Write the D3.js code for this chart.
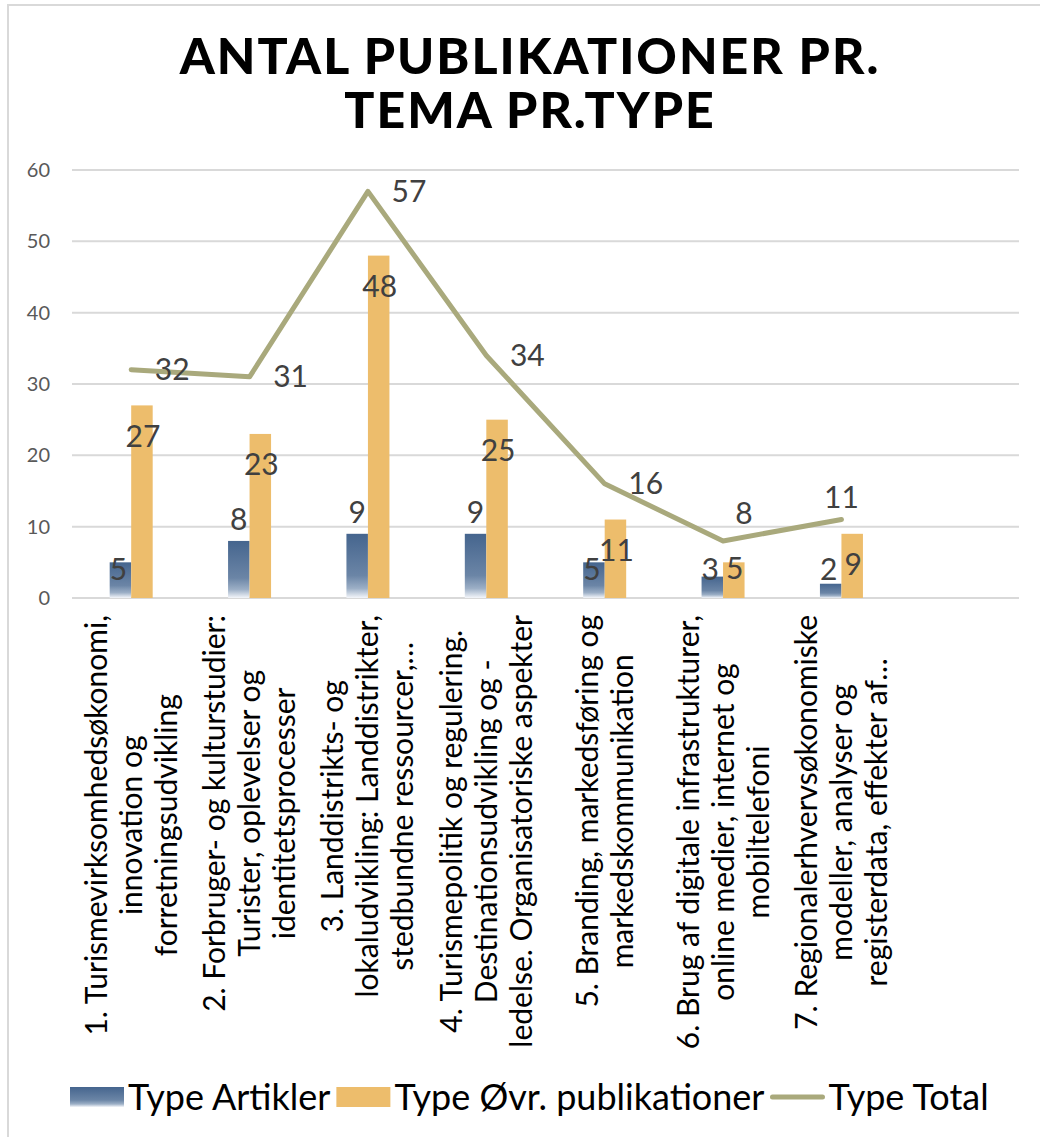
<!DOCTYPE html>
<html>
<head>
<meta charset="utf-8">
<script src="https://cdn.jsdelivr.net/npm/d3@7"></script>
<style>
  body { margin: 0; background: #fff; }
  text { font-family: Lato, "Open Sans", sans-serif; }
</style>
</head>
<body>
<svg id="chart"></svg>
<script>
// Chart data
var categories = ["c1", "c2", "c3", "c4", "c5", "c6", "c7", "c8"];
var categoryLines = [
  ["1. Turismevirksomhedsøkonomi,", "innovation og", "forretningsudvikling"],
  ["2. Forbruger- og kulturstudier:", "Turister, oplevelser og", "identitetsprocesser"],
  ["3. Landdistrikts- og", "lokaludvikling: Landdistrikter,", "stedbundne ressourcer,…"],
  ["4. Turismepolitik og regulering.", "Destinationsudvikling og -", "ledelse. Organisatoriske aspekter"],
  ["5. Branding, markedsføring og", "markedskommunikation"],
  ["6. Brug af digitale infrastrukturer,", "online medier, internet og", "mobiltelefoni"],
  ["7. Regionalerhvervsøkonomiske", "modeller, analyser og", "registerdata, effekter af…"],
  []
];
var artikler = [5, 8, 9, 9, 5, 3, 2];
var oevrige = [27, 23, 48, 25, 11, 5, 9];
var total = [32, 31, 57, 34, 16, 8, 11];
var yTicks = [0, 10, 20, 30, 40, 50, 60];
var seriesNames = ["Type Artikler", "Type Øvr. publikationer", "Type Total"];
var titleLines = ["ANTAL PUBLIKATIONER PR.", "TEMA PR.TYPE"];

var W = 1040, H = 1137;
var plot = {left: 72, right: 1019, top: 170, bottom: 598};

var svg = d3.select("#chart").attr("width", W).attr("height", H);

// chart border
svg.append("rect")
  .attr("x", 8).attr("y", 5)
  .attr("width", W + 10).attr("height", H + 10)
  .attr("fill", "none").attr("stroke", "#d9d9d9").attr("stroke-width", 2);

// gradient for blue bars
var defs = svg.append("defs");
var grad = defs.append("linearGradient").attr("id", "blueGrad")
  .attr("x1", 0).attr("y1", 0).attr("x2", 0).attr("y2", 1);
grad.append("stop").attr("offset", "0%").attr("stop-color", "#45658e");
grad.append("stop").attr("offset", "65%").attr("stop-color", "#6b85a6");
grad.append("stop").attr("offset", "85%").attr("stop-color", "#9cafc6");
grad.append("stop").attr("offset", "100%").attr("stop-color", "#f4f6fa");

// title
svg.append("g").selectAll("text")
  .data(titleLines).enter()
  .append("text")
  .attr("x", 530)
  .attr("y", function(d, i) { return 74 + i * 54; })
  .attr("text-anchor", "middle")
  .attr("font-size", 50).attr("font-weight", 900)
  .attr("letter-spacing", 2)
  .attr("fill", "#000")
  .text(function(d) { return d; });

// scales
var x = d3.scaleBand().domain(categories).range([plot.left, plot.right]);
var y = d3.scaleLinear().domain([0, 60]).range([plot.bottom, plot.top]);
var barW = 21.5;

// gridlines
svg.append("g").selectAll("line")
  .data(yTicks).enter()
  .append("line")
  .attr("x1", plot.left).attr("x2", plot.right)
  .attr("y1", function(d) { return y(d); })
  .attr("y2", function(d) { return y(d); })
  .attr("stroke", "#d9d9d9").attr("stroke-width", 2);

// y axis labels
var yaxis = d3.axisLeft(y).tickValues(yTicks).tickSize(0).tickPadding(0);
var yg = svg.append("g")
  .attr("transform", "translate(50,0)")
  .call(yaxis);
yg.select(".domain").remove();
yg.selectAll("text")
  .attr("font-family", "Lato, sans-serif")
  .attr("font-size", 20).attr("fill", "#595959");

function cx(i) { return x(categories[i]) + x.bandwidth() / 2; }

// bars
svg.append("g").selectAll("rect")
  .data(artikler).enter()
  .append("rect")
  .attr("x", function(d, i) { return cx(i) - barW; })
  .attr("y", function(d) { return y(d); })
  .attr("width", barW)
  .attr("height", function(d) { return y(0) - y(d); })
  .attr("fill", "url(#blueGrad)");

svg.append("g").selectAll("rect")
  .data(oevrige).enter()
  .append("rect")
  .attr("x", function(d, i) { return cx(i); })
  .attr("y", function(d) { return y(d); })
  .attr("width", barW)
  .attr("height", function(d) { return y(0) - y(d); })
  .attr("fill", "#edbd6c");

// total line
var line = d3.line()
  .x(function(d, i) { return cx(i); })
  .y(function(d) { return y(d); });
svg.append("path")
  .datum(total)
  .attr("d", line)
  .attr("fill", "none")
  .attr("stroke", "#a9a97c").attr("stroke-width", 5)
  .attr("stroke-linejoin", "round").attr("stroke-linecap", "round");

// data labels
var labelColor = "#404040";
var lblSize = 30;
svg.append("g").selectAll("text")
  .data(artikler).enter()
  .append("text")
  .attr("x", function(d, i) { return cx(i) - barW / 2 - (d < 8 ? 2 : 0); })
  .attr("y", function(d) { return d >= 8 ? y(d) - 21 : y(0) - 29; })
  .attr("dy", "0.35em")
  .attr("text-anchor", "middle")
  .attr("font-size", lblSize).attr("fill", labelColor)
  .text(function(d) { return d; });

svg.append("g").selectAll("text")
  .data(oevrige).enter()
  .append("text")
  .attr("x", function(d, i) { return cx(i) + barW / 2 + 1; })
  .attr("y", function(d) { return Math.min(y(d) + 31, y(0) - 30); })
  .attr("dy", "0.35em")
  .attr("text-anchor", "middle")
  .attr("font-size", lblSize).attr("fill", labelColor)
  .text(function(d) { return d; });

svg.append("g").selectAll("text")
  .data(total).enter()
  .append("text")
  .attr("x", function(d, i) {
    if (i === total.length - 1) return cx(i);
    if (i === total.length - 2) return cx(i) + 21;
    return cx(i) + 41;
  })
  .attr("y", function(d, i) {
    if (i === total.length - 1) return y(d) - 22;
    if (i === total.length - 2) return y(d) - 27;
    return y(d);
  })
  .attr("dy", "0.35em")
  .attr("text-anchor", "middle")
  .attr("font-size", lblSize).attr("fill", labelColor)
  .text(function(d) { return d; });

// category labels (rotated)
var catSize = 30, lineH = 35;
var catG = svg.append("g").selectAll("g")
  .data(categoryLines).enter()
  .append("g")
  .attr("transform", function(d, i) { return "translate(" + cx(i) + ",615) rotate(-90)"; });

catG.each(function(lines) {
  var g = d3.select(this);
  var n = lines.length;
  var texts = g.selectAll("text").data(lines).enter()
    .append("text")
    .attr("y", function(d, j) { return (j - (n - 1) / 2) * lineH; })
    .attr("dy", "0.35em")
    .attr("text-anchor", "middle")
    .attr("font-size", catSize).attr("fill", "#000")
    .text(function(d) { return d; });
  var maxW = 0;
  texts.each(function() { maxW = Math.max(maxW, this.getComputedTextLength()); });
  texts.attr("x", -maxW / 2);
});

// legend
var legend = svg.append("g").attr("transform", "translate(0,1097)");
var legFont = 36;
var lx = 70;
seriesNames.forEach(function(name, i) {
  if (i === 0) {
    legend.append("rect").attr("x", lx).attr("y", -10).attr("width", 54).attr("height", 20)
      .attr("fill", "url(#blueGrad)");
  } else if (i === 1) {
    legend.append("rect").attr("x", lx).attr("y", -10).attr("width", 54).attr("height", 20)
      .attr("fill", "#edbd6c");
  } else {
    legend.append("line").attr("x1", lx + 2).attr("x2", lx + 52).attr("y1", 0).attr("y2", 0)
      .attr("stroke", "#a9a97c").attr("stroke-width", 5).attr("stroke-linecap", "round");
  }
  var t = legend.append("text")
    .attr("x", lx + 58).attr("y", 0).attr("dy", "0.35em")
    .attr("font-size", legFont).attr("fill", "#000")
    .text(name);
  lx += 58 + t.node().getComputedTextLength() + 6;
});
</script>
</body>
</html>
